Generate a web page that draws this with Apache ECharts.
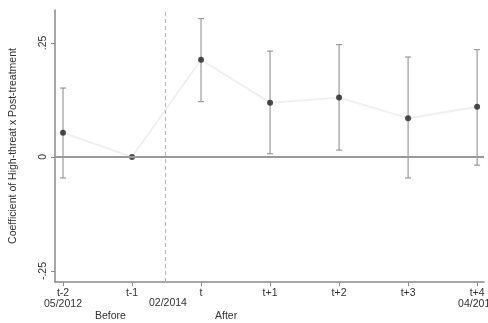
<!DOCTYPE html>
<html>
<head>
<meta charset="utf-8">
<script src="https://cdn.jsdelivr.net/npm/echarts@6/dist/echarts.min.js"></script>
<style>html,body{margin:0;padding:0;background:#fff}#c{width:488px;height:323px}</style>
</head>
<body>
<div id="c"></div>
<script>
// Event-study periods and estimates
const periods = [-2, -1, 0, 1, 2, 3, 4];
const periodLabels = ['t-2\n05/2012', 't-1', 't', 't+1', 't+2', 't+3', 't+4\n04/2016'];
const coef = [0.053, 0, 0.213, 0.119, 0.130, 0.085, 0.110];
const ciLow = [-0.046, null, 0.121, 0.007, 0.015, -0.046, -0.018];
const ciHigh = [0.151, null, 0.303, 0.232, 0.246, 0.219, 0.235];
const yTicks = [-0.25, 0, 0.25];
const yTickLabels = ['-.25', '0', '.25'];
const treatmentDate = -0.52;

const font = 'Liberation Sans, Arial, sans-serif';
const chart = echarts.init(document.getElementById('c'), null, {renderer: 'canvas'});

const ciData = periods.map((p, i) => [p, ciLow[i], ciHigh[i]]).filter(d => d[1] !== null);

chart.setOption({
  animation: false,
  grid: {left: 55, right: 4, top: 10, bottom: 41, containLabel: false, outerBoundsMode: 'none'},
  xAxis: {
    type: 'value', min: -2.116, max: 4.1,
    splitLine: {show: false},
    axisLine: {onZero: false, lineStyle: {color: '#8a8a8a', width: 1.5}},
    axisTick: {length: 4, lineStyle: {color: '#8a8a8a'}, customValues: periods},
    axisLabel: {
      customValues: periods, color: '#333', fontFamily: font, fontSize: 10.5, lineHeight: 11, margin: 6,
      formatter: v => periodLabels[periods.indexOf(Math.round(v))] || ''
    }
  },
  yAxis: {
    type: 'value', min: -0.274, max: 0.322,
    splitLine: {show: false},
    axisLine: {show: true, onZero: false, lineStyle: {color: '#8a8a8a', width: 1.5}},
    axisTick: {show: true, length: 4, lineStyle: {color: '#8a8a8a'}, customValues: yTicks},
    axisLabel: {
      customValues: yTicks, rotate: 90, color: '#333', fontFamily: font, fontSize: 10.5, margin: 6,
      formatter: v => yTickLabels[yTicks.indexOf(Math.round(v * 100) / 100)] || ''
    },
    name: 'Coefficient of High-threat x Post-treatment',
    nameLocation: 'middle', nameGap: 36,
    nameTextStyle: {color: '#333', fontFamily: font, fontSize: 10.5}
  },
  graphic: [
    {type: 'text', left: 149, top: 298, style: {text: '02/2014', fill: '#333', font: '10.5px ' + font}},
    {type: 'text', left: 95, top: 311, style: {text: 'Before', fill: '#333', font: '10.5px ' + font}},
    {type: 'text', left: 215, top: 311, style: {text: 'After', fill: '#333', font: '10.5px ' + font}}
  ],
  series: [
    {
      // faint path joining the estimates
      type: 'line', data: periods.map((p, i) => [p, coef[i]]),
      symbol: 'none', lineStyle: {color: '#f0f0f0', width: 2}, z: 1,
      markLine: {
        silent: true, symbol: 'none', label: {show: false},
        data: [
          {yAxis: 0, lineStyle: {color: '#9a9a9a', width: 2, type: 'solid'}},
          {xAxis: treatmentDate, lineStyle: {color: '#b8b8b8', width: 1, type: [4, 3]}}
        ]
      }
    },
    {
      // confidence intervals
      type: 'custom', z: 2,
      data: ciData,
      renderItem: (params, api) => {
        const x = api.value(0);
        const lo = api.coord([x, api.value(1)]);
        const hi = api.coord([x, api.value(2)]);
        const w = 3;
        const st = {stroke: '#888', lineWidth: 1};
        return {type: 'group', children: [
          {type: 'line', shape: {x1: lo[0], y1: lo[1], x2: hi[0], y2: hi[1]}, style: st},
          {type: 'line', shape: {x1: lo[0] - w, y1: lo[1], x2: lo[0] + w, y2: lo[1]}, style: st},
          {type: 'line', shape: {x1: hi[0] - w, y1: hi[1], x2: hi[0] + w, y2: hi[1]}, style: st}
        ]};
      }
    },
    {
      type: 'scatter', z: 3, data: periods.map((p, i) => [p, coef[i]]),
      symbol: 'circle', symbolSize: 6, itemStyle: {color: '#222'}
    }
  ]
});
</script>
</body>
</html>
